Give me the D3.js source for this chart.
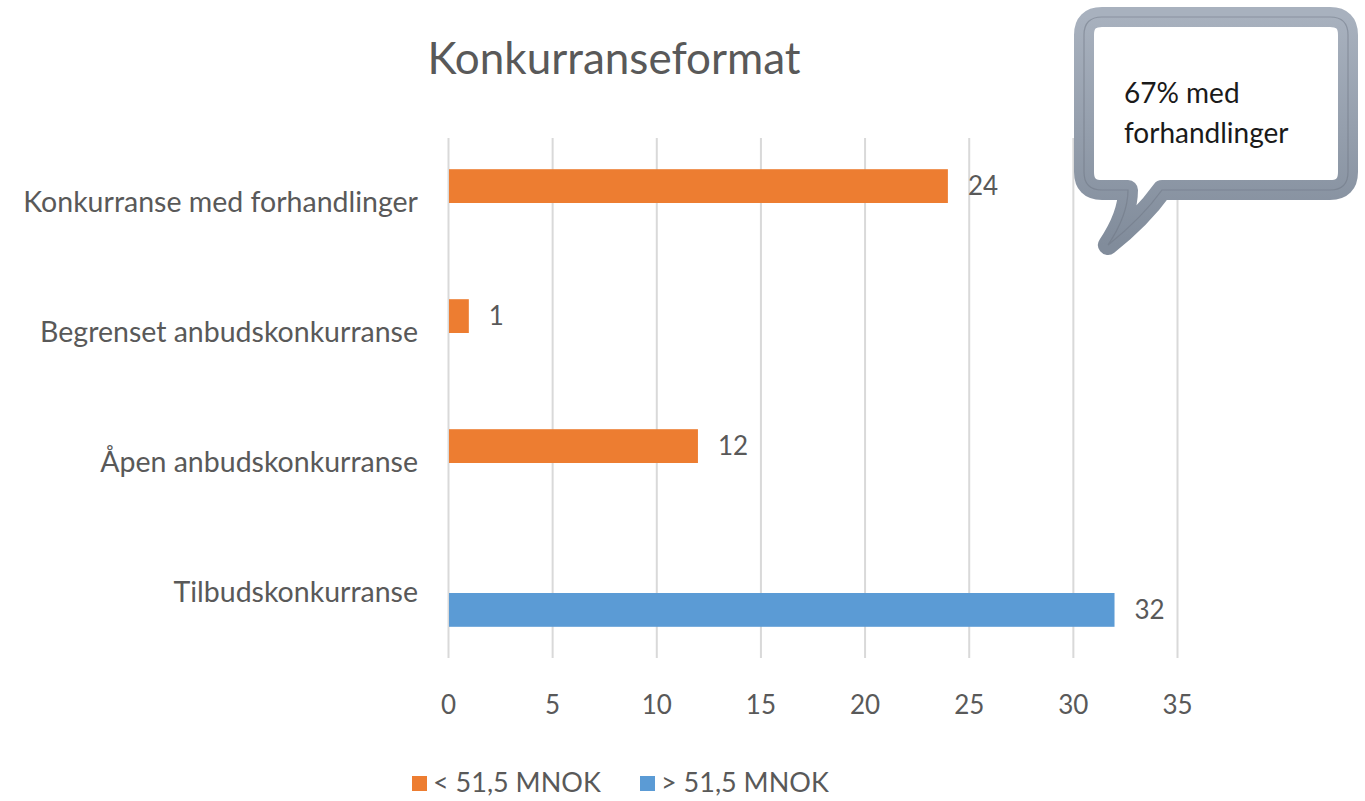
<!DOCTYPE html>
<html>
<head>
<meta charset="UTF-8">
<title>Konkurranseformat</title>
<script src="https://d3js.org/d3.v7.min.js"></script>
<style>
    body { margin: 0; background: #fff; }
    svg text { font-family: Lato, "Open Sans", sans-serif; fill: #595959; }
    .grid line { stroke: #d9d9d9; stroke-width: 2; }
    .grid path { display: none; }
</style>
</head>
<body>
<svg id="chart" width="1365" height="801"></svg>
<script>
// data
const categories = ["Konkurranse med forhandlinger", "Begrenset anbudskonkurranse", "Åpen anbudskonkurranse", "Tilbudskonkurranse"];
const seriesNames = ["< 51,5 MNOK", "> 51,5 MNOK"];
const under = [24, 1, 12, null];
const over = [null, null, null, 32];
const xTicks = [0, 5, 10, 15, 20, 25, 30, 35];
const colors = ["#ed7d31", "#5b9bd5"];
const calloutLines = ["67% med", "forhandlinger"];

const svg = d3.select("#chart");
const margin = {left: 448, right: 188, top: 138, bottom: 143};
const W = 1365, H = 801;

const x = d3.scaleLinear().domain([0, 35]).range([margin.left, W - margin.right]);
const y = d3.scaleBand().domain(categories).range([margin.top, H - margin.bottom]).paddingInner(0.48).paddingOuter(0.24);
const ySub = d3.scaleBand().domain(seriesNames).range([0, y.bandwidth()]);

// gridlines
svg.append("g").attr("class", "grid")
    .attr("transform", `translate(0,${margin.top})`)
    .call(d3.axisBottom(x).tickValues(xTicks).tickSize(H - margin.bottom - margin.top).tickFormat(""));

// bars
const rows = [];
categories.forEach((c, i) => {
    if (under[i] != null) rows.push({cat: c, s: seriesNames[0], v: under[i], col: colors[0]});
    if (over[i] != null) rows.push({cat: c, s: seriesNames[1], v: over[i], col: colors[1]});
});

svg.selectAll("rect.bar").data(rows).enter().append("rect")
    .attr("class", "bar")
    .attr("x", x(0) + 1)
    .attr("y", d => y(d.cat) + ySub(d.s))
    .attr("width", d => x(d.v) - x(0) - 1)
    .attr("height", ySub.bandwidth())
    .attr("fill", d => d.col);

svg.selectAll("text.val").data(rows).enter().append("text")
    .attr("class", "val")
    .attr("x", d => x(d.v) + 20)
    .attr("y", d => y(d.cat) + ySub(d.s) + ySub.bandwidth() / 2)
    .attr("dy", "0.35em")
    .style("font-size", "26px")
    .text(d => d.v);

// x axis labels
const xAxis = svg.append("g")
    .attr("transform", `translate(0,${H - margin.bottom})`)
    .call(d3.axisBottom(x).tickValues(xTicks).tickSize(0).tickPadding(38));
xAxis.select(".domain").remove();
xAxis.selectAll("text").style("font-size", "26px").attr("fill", "#595959");

// category labels
const yAxis = svg.append("g")
    .attr("transform", `translate(${margin.left},0)`)
    .call(d3.axisLeft(y).tickSize(0).tickPadding(30));
yAxis.select(".domain").remove();
yAxis.selectAll("text").style("font-size", "28.5px").attr("fill", "#595959");

// title
svg.append("text")
    .attr("x", 614).attr("y", 74)
    .attr("text-anchor", "middle")
    .style("font-size", "44px")
    .text("Konkurranseformat");

// legend
const lg = svg.append("g").attr("transform", "translate(412,783)");
const lgX = [0, 228];
seriesNames.forEach((s, i) => {
    lg.append("rect").attr("x", lgX[i]).attr("y", -7).attr("width", 15).attr("height", 15).attr("fill", colors[i]);
    lg.append("text").attr("x", lgX[i] + 21).attr("y", 0).attr("dy", "0.35em")
        .style("font-size", "27px").text(s);
});

// callout bubble
const defs = svg.append("defs");
const grad = defs.append("linearGradient").attr("id", "bub").attr("x1", 0).attr("y1", 0).attr("x2", 0).attr("y2", 1);
grad.append("stop").attr("offset", 0).attr("stop-color", "#a8b1be");
grad.append("stop").attr("offset", 1).attr("stop-color", "#818c9b");

const bx0 = 1084, bx1 = 1348, by0 = 17, by1 = 190, r = 18;
const bubble = `M${bx0 + r},${by0} L${bx1 - r},${by0} Q${bx1},${by0} ${bx1},${by0 + r}
    L${bx1},${by1 - r} Q${bx1},${by1} ${bx1 - r},${by1}
    L1162,${by1} Q1142,218 1108,245 Q1128,215 1128,${by1}
    L${bx0 + r},${by1} Q${bx0},${by1} ${bx0},${by1 - r}
    L${bx0},${by0 + r} Q${bx0},${by0} ${bx0 + r},${by0} Z`;
svg.append("path").attr("d", bubble)
    .attr("fill", "#fff").attr("stroke", "url(#bub)").attr("stroke-width", 20).attr("stroke-linejoin", "round");
svg.append("path").attr("d", bubble)
    .attr("fill", "none").attr("stroke", "#6d7684").attr("stroke-width", 1.2)
    .attr("opacity", 0.5);

calloutLines.forEach((t, i) => {
    svg.append("text").attr("x", 1124).attr("y", 103 + i * 40)
        .style("font-size", "28px").style("fill", "#1a1a1a").text(t);
});
</script>
</body>
</html>
